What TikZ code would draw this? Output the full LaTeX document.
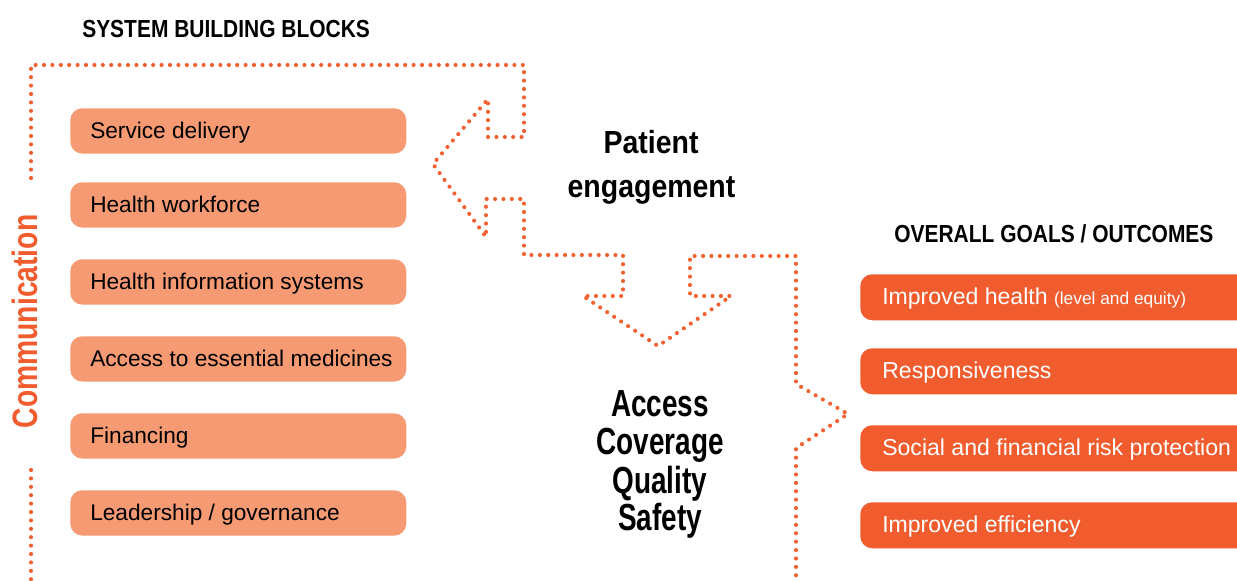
\documentclass[tikz,border=0pt]{standalone}
\usepackage{fontspec}
\setmainfont{Liberation Sans}
\newfontfamily\headfont[FakeStretch=0.85]{Liberation Sans}
\newfontfamily\midfont[FakeStretch=0.89]{Liberation Sans}
\newfontfamily\commfont[FakeStretch=0.8]{Liberation Sans}
\newfontfamily\bigfont[FakeStretch=0.74]{Liberation Sans}
\definecolor{lightor}{HTML}{F69A73}
\definecolor{darkor}{HTML}{F15C2E}
\definecolor{dotor}{HTML}{F26132}
\newcommand\lbtext[1]{\makebox[222pt][l]{#1}}
\newcommand\rbtext[1]{\makebox[267pt][l]{#1}}
\begin{document}
\begin{tikzpicture}[x=0.75pt,y=-0.75pt,
  lbox/.style={fill=lightor, rounded corners=9pt, anchor=north west,
    minimum width=252pt, minimum height=34pt,
    inner xsep=15pt, inner ysep=0pt, text height=14pt, text depth=2.8pt,
    font=\fontsize{17}{20}\selectfont, text=black},
  rbox/.style={fill=darkor, rounded corners=9pt, anchor=north west,
    minimum width=300pt, minimum height=34.5pt,
    inner xsep=16.5pt, inner ysep=0pt, text height=14pt, text depth=2.8pt,
    font=\fontsize{17.3}{20}\selectfont, text=white},
  headtxt/.style={inner sep=0pt, anchor=base west, font=\headfont\bfseries\fontsize{18.5}{22}\selectfont},
  midtxt/.style={inner sep=0pt, anchor=base, font=\midfont\bfseries\fontsize{24}{28}\selectfont},
  bigtxt/.style={inner sep=0pt, anchor=base, font=\bigfont\bfseries\fontsize{28.3}{32}\selectfont},
  dots/.style={draw=dotor, line width=3.1pt, line cap=round, dash pattern=on 0pt off 6.3pt}
]
\clip (0,0) rectangle (1237,581);

% headings
\node[headtxt] (sbb) at (82,38) {SYSTEM BUILDING BLOCKS};
\node[headtxt] (ogo) at (894,242) {OVERALL GOALS / OUTCOMES};

% left building blocks
\node[lbox] (b1) at (70,108) {\lbtext{Service delivery}};
\node[lbox] (b2) at (70,182) {\lbtext{Health workforce}};
\node[lbox] (b3) at (70,259) {\lbtext{Health information systems}};
\node[lbox] (b4) at (70,336) {\lbtext{Access to essential medicines}};
\node[lbox] (b5) at (70,413) {\lbtext{Financing}};
\node[lbox] (b6) at (70,490) {\lbtext{Leadership / governance}};

% right outcomes
\node[rbox] (o1) at (860,274) {\rbtext{Improved health {\fontsize{13}{15}\selectfont (level and equity)}}};
\node[rbox] (o2) at (860,348) {\rbtext{Responsiveness}};
\node[rbox] (o3) at (860,425) {\rbtext{Social and financial risk protection}};
\node[rbox] (o4) at (860,502) {\rbtext{Improved efficiency}};

% middle texts
\node[midtxt] (pe1) at (651,153) {Patient};
\node[midtxt] (pe2) at (651.5,197) {engagement};
\node[bigtxt] (q1) at (660,416) {Access};
\node[bigtxt] (q2) at (660,454) {Coverage};
\node[bigtxt] (q3) at (660,493) {Quality};
\node[bigtxt] (q4) at (660,530) {Safety};

% communication
\node[inner sep=0pt, anchor=base, rotate=90, text=darkor,
  font=\commfont\bfseries\fontsize{26.5}{30}\selectfont] (comm) at (37,321.5) {Communication};

% dotted frame and arrows
\draw[dots] (31,178) -- (31,65) -- (524,65) -- (524,137) -- (488,137) -- (488,99)
  -- (433,164) -- (486,237) -- (486,199) -- (524,199) -- (524,255) -- (623,255)
  -- (623,296) -- (583,296) -- (658,346) -- (731,296) -- (690,296) -- (690,256)
  -- (796,256) -- (796,384) -- (848,414) -- (796,448) -- (796,581);
\draw[dots] (31,470) -- (31,581);
\end{tikzpicture}
\end{document}
